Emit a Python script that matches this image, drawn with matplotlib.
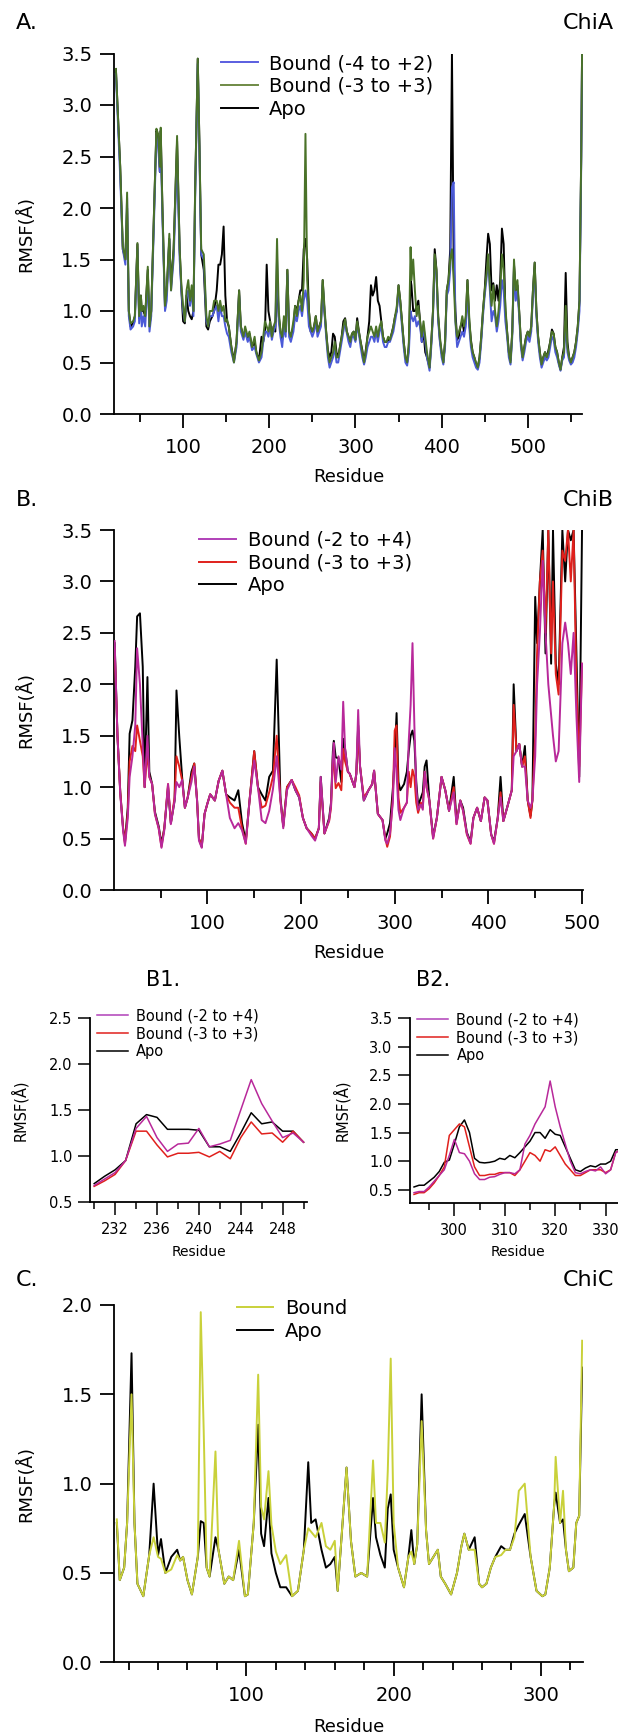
import matplotlib
matplotlib.use('Agg')
import matplotlib.pyplot as plt
from matplotlib.ticker import MultipleLocator

# ---------------- data ----------------
# ChiA
res_a = [22, 27, 30, 33, 35, 37, 39, 42, 44, 47,
         49, 51, 52, 54, 56, 59, 61, 63, 66, 69,
         71, 73, 74, 76, 79, 81, 84, 86, 89, 93,
         96, 98, 100, 102, 104, 106, 108, 110, 112, 114,
         117, 119, 121, 124, 127, 129, 131, 134, 136, 139,
         141, 143, 145, 147, 149, 151, 153, 156, 159, 162,
         165, 167, 170, 172, 175, 177, 180, 183, 185, 188,
         191, 193, 195, 197, 199, 201, 203, 205, 207, 209,
         211, 213, 215, 217, 219, 221, 223, 225, 228, 230,
         232, 234, 236, 238, 240, 242, 244, 246, 248, 250,
         252, 254, 256, 258, 260, 262, 264, 266, 268, 270,
         272, 274, 276, 278, 280, 282, 284, 286, 288, 290,
         292, 294, 296, 298, 300, 302, 304, 306, 308, 310,
         312, 314, 316, 318, 320, 322, 324, 326, 328, 330,
         332, 334, 336, 338, 340, 342, 344, 346, 348, 350,
         352, 354, 356, 358, 360, 362, 364, 365, 367, 369,
         371, 373, 375, 377, 379, 381, 383, 386, 388, 390,
         392, 394, 396, 398, 400, 402, 404, 406, 408, 410,
         412, 414, 416, 418, 420, 422, 424, 426, 428, 430,
         432, 434, 436, 438, 440, 442, 444, 446, 448, 450,
         452, 454, 456, 458, 460, 462, 464, 466, 468, 470,
         472, 474, 476, 478, 480, 482, 484, 486, 488, 490,
         492, 494, 496, 498, 500, 502, 504, 506, 508, 510,
         512, 514, 516, 518, 520, 522, 524, 526, 528, 530,
         532, 534, 536, 538, 540, 542, 544, 546, 548, 550,
         552, 554, 556, 558, 560, 562, 563]
a_bound33 = [3.35, 2.4, 1.63, 1.5, 2.15, 1.0, 0.88, 0.9, 0.95, 1.66,
             0.95, 1.15, 1.0, 1.05, 0.95, 1.43, 0.85, 1.0, 1.9, 2.77,
             2.72, 2.4, 2.78, 2.0, 1.05, 1.2, 1.75, 1.2, 1.6, 2.7,
             1.6, 1.25, 1.05, 0.9, 1.2, 1.3, 1.1, 1.25, 1.0, 2.2,
             3.45, 2.6, 1.6, 1.55, 0.95, 0.85, 1.0, 1.0, 1.1, 1.1,
             1.0, 1.1, 1.0, 1.05, 0.9, 0.92, 0.85, 0.65, 0.5, 0.7,
             1.2, 0.85, 0.75, 0.85, 0.75, 0.8, 0.65, 0.75, 0.6, 0.52,
             0.6, 0.75, 0.9, 0.85, 0.8, 0.9, 0.75, 0.85, 0.9, 1.7,
             1.0, 0.8, 0.75, 0.95, 0.8, 1.4, 0.8, 0.75, 0.9, 1.05,
             0.95, 1.1, 1.15, 1.0, 1.3, 2.72, 1.3, 1.0, 0.85, 0.8,
             0.85, 0.95, 0.8, 0.85, 0.9, 1.3, 1.05, 0.8, 0.6, 0.5,
             0.55, 0.6, 0.7, 0.55, 0.55, 0.65, 0.75, 0.85, 0.92, 0.8,
             0.75, 0.7, 0.78, 0.8, 0.72, 0.9, 0.8, 0.7, 0.6, 0.5,
             0.6, 0.75, 0.8, 0.85, 0.8, 0.75, 0.85, 0.75, 0.85, 0.9,
             0.75, 0.7, 0.7, 0.75, 0.72, 0.78, 0.85, 0.95, 1.05, 1.25,
             1.1, 0.9, 0.7, 0.55, 0.5, 0.7, 1.62, 1.3, 1.5, 1.2,
             0.95, 1.05, 0.9, 0.75, 0.9, 0.75, 0.6, 0.45, 0.7, 1.0,
             1.55, 1.4, 0.95, 0.75, 0.6, 0.5, 0.7, 1.2, 1.3, 1.5,
             1.6, 1.3, 0.9, 0.75, 0.8, 0.85, 0.95, 0.85, 0.95, 1.3,
             0.95, 0.7, 0.6, 0.55, 0.5, 0.45, 0.55, 0.75, 1.0, 1.2,
             1.35, 1.55, 1.25, 1.05, 1.25, 1.0, 0.85, 1.0, 1.2, 1.55,
             1.4, 1.05, 0.8, 0.6, 0.5, 0.8, 1.5, 1.2, 1.3, 1.0,
             0.7, 0.55, 0.65, 0.75, 0.8, 0.75, 0.85, 1.2, 1.47, 1.0,
             0.75, 0.6, 0.48, 0.55, 0.6, 0.55, 0.6, 0.7, 0.8, 0.78,
             0.65, 0.6, 0.5, 0.43, 0.55, 0.6, 1.05, 0.65, 0.55, 0.5,
             0.55, 0.6, 0.7, 0.85, 1.1, 2.5, 3.5]
a_bound42 = [3.3, 2.3, 1.6, 1.45, 2.1, 0.95, 0.82, 0.85, 0.9, 1.6,
             0.88, 1.1, 0.85, 0.95, 0.85, 1.3, 0.8, 0.95, 1.8, 2.7,
             2.6, 2.35, 2.65, 1.9, 1.0, 1.1, 1.7, 1.2, 1.5, 2.5,
             1.5, 1.2, 1.0, 0.9, 1.15, 1.2, 1.05, 1.2, 0.95, 2.1,
             3.4, 2.5, 1.55, 1.5, 0.9, 0.85, 0.95, 0.95, 1.0, 1.05,
             0.9, 1.05, 0.95, 0.95, 0.85, 0.78, 0.75, 0.6, 0.5, 0.65,
             1.15, 0.8, 0.72, 0.8, 0.7, 0.75, 0.62, 0.65, 0.58, 0.5,
             0.55, 0.7, 0.8, 0.8, 0.75, 0.85, 0.72, 0.8, 0.85, 1.5,
             0.9, 0.75, 0.65, 0.85, 0.75, 1.35, 0.75, 0.7, 0.8, 0.95,
             0.9, 1.0, 1.05, 0.95, 1.1, 1.2, 1.1, 0.85, 0.8, 0.75,
             0.8, 0.9, 0.75, 0.8, 0.85, 1.25, 1.0, 0.75, 0.55, 0.45,
             0.5, 0.55, 0.65, 0.5, 0.5, 0.6, 0.7, 0.8, 0.9, 0.78,
             0.7, 0.65, 0.75, 0.75, 0.7, 0.85, 0.78, 0.65, 0.55, 0.48,
             0.55, 0.65, 0.7, 0.75, 0.75, 0.7, 0.8, 0.7, 0.8, 0.85,
             0.7, 0.65, 0.65, 0.7, 0.7, 0.75, 0.8, 0.9, 1.0, 1.2,
             1.05, 0.85, 0.65, 0.5, 0.47, 0.6, 1.0, 0.95, 0.9, 0.95,
             0.85, 0.9, 0.85, 0.7, 0.85, 0.7, 0.55, 0.42, 0.65, 0.95,
             1.5, 1.35, 0.9, 0.7, 0.55, 0.48, 0.65, 1.15, 1.2, 1.4,
             2.2, 2.25, 0.9, 0.65, 0.7, 0.75, 0.8, 0.75, 0.85, 1.2,
             0.85, 0.65, 0.55, 0.5, 0.45, 0.43, 0.5, 0.7, 0.95, 1.15,
             1.3, 1.5, 1.2, 0.9, 1.0, 0.95, 0.8, 0.9, 1.05, 1.3,
             1.2, 0.9, 0.75, 0.55, 0.48, 0.75, 1.4, 1.1, 1.2, 0.95,
             0.65, 0.52, 0.6, 0.7, 0.75, 0.7, 0.8, 1.15, 1.4, 0.95,
             0.7, 0.55, 0.45, 0.5, 0.55, 0.52, 0.55, 0.65, 0.75, 0.72,
             0.6, 0.55, 0.48, 0.42, 0.52, 0.55, 0.9, 0.6, 0.52, 0.48,
             0.5, 0.55, 0.65, 0.8, 1.0, 2.4, 3.5]
a_apo = [3.35, 2.4, 1.6, 1.5, 2.0, 1.0, 0.85, 0.88, 0.95, 1.65,
         0.93, 1.15, 1.0, 1.0, 0.95, 1.4, 0.85, 1.0, 1.9, 2.75,
         2.7, 2.35, 2.75, 2.0, 1.02, 1.2, 1.7, 1.25, 1.6, 2.65,
         1.6, 1.2, 0.9, 0.88, 1.15, 1.0, 0.95, 0.92, 1.0, 2.2,
         3.45, 2.6, 1.55, 1.4, 0.85, 0.82, 0.9, 0.95, 1.0, 1.2,
         1.45, 1.45, 1.55, 1.82, 1.15, 0.9, 0.85, 0.65, 0.52, 0.7,
         1.2, 0.85, 0.75, 0.8, 0.72, 0.78, 0.65, 0.7, 0.6, 0.52,
         0.75, 0.7, 0.8, 1.45, 1.0, 0.9, 0.75, 0.85, 0.8, 1.3,
         0.95, 0.8, 0.72, 0.9, 0.8, 1.4, 0.8, 0.75, 0.85, 1.05,
         1.0, 1.1, 1.2, 1.2, 1.6, 1.7, 1.5, 1.0, 0.8, 0.8,
         0.85, 0.95, 0.8, 0.85, 0.9, 1.3, 1.0, 0.8, 0.62, 0.55,
         0.6, 0.78, 0.75, 0.6, 0.55, 0.65, 0.75, 0.9, 0.93, 0.8,
         0.75, 0.7, 0.78, 0.8, 0.72, 0.93, 0.8, 0.7, 0.62, 0.5,
         0.62, 0.75, 0.9, 1.25, 1.15, 1.2, 1.33, 1.1, 1.05, 0.9,
         0.75, 0.7, 0.7, 0.72, 0.72, 0.78, 0.85, 0.95, 1.0, 1.25,
         1.1, 0.9, 0.7, 0.55, 0.5, 0.65, 1.3, 1.25, 1.0, 1.0,
         1.05, 1.1, 0.9, 0.7, 0.8, 0.6, 0.55, 0.45, 0.7, 1.0,
         1.6, 1.4, 0.95, 0.72, 0.6, 0.5, 0.7, 1.2, 1.3, 1.6,
         3.5, 1.5, 1.0, 0.72, 0.75, 0.85, 0.9, 0.8, 0.9, 1.3,
         0.9, 0.72, 0.6, 0.55, 0.48, 0.45, 0.55, 0.75, 1.0, 1.2,
         1.5, 1.75, 1.65, 1.2, 1.27, 1.1, 1.25, 1.1, 1.3, 1.8,
         1.65, 1.0, 0.8, 0.6, 0.52, 0.8, 1.45, 1.2, 1.25, 1.0,
         0.7, 0.55, 0.65, 0.75, 0.8, 0.75, 0.85, 1.2, 1.47, 1.0,
         0.75, 0.6, 0.48, 0.55, 0.6, 0.55, 0.62, 0.7, 0.82, 0.78,
         0.65, 0.6, 0.5, 0.43, 0.55, 0.65, 1.37, 0.7, 0.55, 0.5,
         0.55, 0.6, 0.7, 0.85, 1.1, 2.5, 3.5]

# ChiB
res_b = [1, 4, 7, 10, 12, 15, 17, 20, 23, 25,
         28, 31, 33, 36, 38, 41, 44, 48, 51, 54,
         58, 61, 65, 67, 70, 73, 76, 79, 83, 86,
         89, 91, 94, 97, 100, 103, 108, 112, 116, 120,
         124, 129, 133, 137, 141, 145, 150, 154, 158, 162,
         166, 170, 174, 178, 181, 185, 190, 194, 198, 202,
         206, 211, 215, 219, 221, 225, 230, 232, 234, 235,
         237, 240, 243, 245, 247, 250, 252, 257, 259, 261,
         263, 267, 272, 276, 278, 282, 287, 290, 292, 295,
         298, 300, 302, 304, 306, 310, 313, 315, 317, 319,
         321, 323, 325, 328, 330, 332, 334, 337, 341, 345,
         350, 354, 358, 363, 366, 370, 373, 377, 381, 384,
         388, 392, 396, 399, 403, 406, 410, 413, 416, 420,
         425, 427, 430, 433, 436, 439, 442, 445, 447, 450,
         452, 455, 458, 461, 464, 467, 469, 472, 475, 479,
         482, 485, 488, 491, 494, 497, 500]
b_bound24 = [2.42, 1.5, 0.93, 0.58, 0.43, 0.7, 1.1, 1.3, 1.6, 2.35,
             2.0, 1.4, 1.0, 1.5, 1.1, 1.03, 0.74, 0.6, 0.41, 0.58,
             1.03, 0.64, 0.87, 1.05, 1.0, 1.07, 0.8, 0.9, 1.05, 1.2,
             0.87, 0.48, 0.41, 0.74, 0.84, 0.93, 0.87, 1.06, 1.16, 0.93,
             0.7, 0.6, 0.65, 0.58, 0.45, 0.87, 1.26, 1.0, 0.68, 0.65,
             0.77, 0.98, 1.3, 0.87, 0.6, 0.97, 1.07, 0.97, 0.9, 0.7,
             0.6, 0.53, 0.48, 0.6, 1.1, 0.55, 0.68, 0.82, 1.3, 1.43,
             1.05, 1.3, 1.17, 1.83, 1.38, 1.15, 1.13, 1.0, 1.13, 1.75,
             1.2, 0.87, 0.97, 1.03, 1.16, 0.74, 0.68, 0.48, 0.45, 0.55,
             0.85, 1.38, 1.13, 0.78, 0.68, 0.8, 0.85, 1.45, 1.8, 2.4,
             1.6, 1.0, 0.78, 0.83, 0.78, 1.15, 1.0, 0.87, 0.5, 0.7,
             1.1, 0.97, 0.77, 0.95, 0.64, 0.87, 0.77, 0.55, 0.45, 0.7,
             0.8, 0.67, 0.9, 0.87, 0.54, 0.45, 0.7, 0.9, 0.67, 0.8,
             0.97, 1.3, 1.35, 1.42, 1.2, 1.2, 0.87, 0.8, 0.87, 1.3,
             2.0, 2.5, 3.2, 2.5, 2.0, 1.7, 1.5, 1.25, 1.35, 2.4,
             2.6, 2.4, 2.1, 2.5, 1.7, 1.05, 2.2]
b_bound33 = [2.35, 1.5, 0.95, 0.6, 0.45, 0.75, 1.25, 1.4, 1.35, 1.6,
             1.45, 1.3, 1.0, 1.35, 1.1, 1.03, 0.74, 0.6, 0.42, 0.6,
             1.03, 0.65, 0.9, 1.3, 1.2, 1.07, 0.8, 0.9, 1.1, 1.23,
             0.87, 0.5, 0.42, 0.74, 0.84, 0.93, 0.87, 1.06, 1.16, 0.93,
             0.85, 0.8, 0.8, 0.6, 0.45, 0.87, 1.35, 1.0, 0.8, 0.82,
             0.95, 1.1, 1.5, 0.87, 0.62, 1.0, 1.07, 1.0, 0.92, 0.7,
             0.6, 0.55, 0.5, 0.6, 1.05, 0.55, 0.67, 0.8, 1.27, 1.27,
             0.99, 1.04, 0.97, 1.37, 1.25, 1.15, 1.13, 1.0, 1.13, 1.55,
             1.2, 0.9, 0.97, 1.03, 1.16, 0.74, 0.68, 0.5, 0.42, 0.52,
             0.9, 1.55, 1.6, 0.9, 0.75, 0.8, 0.85, 1.15, 1.0, 1.17,
             1.1, 0.85, 0.75, 0.85, 0.8, 1.15, 1.0, 0.87, 0.5, 0.7,
             1.1, 0.97, 0.77, 1.0, 0.64, 0.87, 0.77, 0.54, 0.45, 0.7,
             0.8, 0.67, 0.9, 0.87, 0.54, 0.45, 0.7, 0.95, 0.67, 0.8,
             0.97, 1.8, 1.35, 1.42, 1.2, 1.3, 0.87, 0.7, 0.87, 1.5,
             2.3, 3.0, 3.3, 2.5, 3.5, 2.3, 3.0, 2.1, 1.9, 3.3,
             3.2, 3.5, 3.0, 3.5, 2.0, 1.2, 2.2]
b_apo = [2.4, 1.5, 0.95, 0.6, 0.47, 0.8, 1.52, 1.65, 2.17, 2.66,
         2.69, 2.17, 1.0, 2.07, 1.15, 1.03, 0.76, 0.62, 0.45, 0.6,
         1.0, 0.65, 0.87, 1.94, 1.49, 1.1, 0.8, 0.9, 1.15, 1.23,
         0.87, 0.5, 0.42, 0.74, 0.84, 0.93, 0.87, 1.06, 1.16, 0.93,
         0.9, 0.87, 0.97, 0.65, 0.48, 0.87, 1.35, 1.0, 0.93, 0.87,
         1.1, 1.16, 2.24, 0.9, 0.62, 1.0, 1.07, 0.97, 0.9, 0.7,
         0.6, 0.55, 0.5, 0.6, 1.1, 0.55, 0.7, 0.85, 1.35, 1.45,
         1.29, 1.28, 1.05, 1.47, 1.37, 1.15, 1.13, 1.0, 1.13, 1.6,
         1.2, 0.87, 0.97, 1.03, 1.16, 0.74, 0.68, 0.5, 0.55, 0.65,
         0.98, 1.3, 1.72, 1.05, 0.97, 1.03, 1.15, 1.35, 1.5, 1.55,
         1.45, 1.05, 0.82, 0.9, 0.95, 1.2, 1.26, 0.87, 0.52, 0.7,
         1.1, 0.97, 0.77, 1.1, 0.66, 0.87, 0.8, 0.56, 0.47, 0.7,
         0.8, 0.67, 0.9, 0.87, 0.54, 0.47, 0.7, 1.1, 0.67, 0.8,
         0.97, 2.0, 1.35, 1.42, 1.2, 1.4, 0.87, 0.72, 0.87, 2.85,
         2.4, 3.0, 3.5, 2.3, 3.5, 2.2, 3.5, 2.2, 2.0, 3.5,
         3.0, 3.5, 3.4, 3.5, 2.3, 1.1, 3.5]

# ChiB zoom B1 (residues 230-250)
res_b1 = [230, 231, 232, 233, 234, 235, 236, 237, 238, 239,
          240, 241, 242, 243, 244, 245, 246, 247, 248, 249, 250]
b1_bound24 = [0.68, 0.75, 0.82, 0.95, 1.3, 1.43, 1.2, 1.05, 1.13, 1.14,
              1.3, 1.1, 1.13, 1.17, 1.5, 1.83, 1.57, 1.38, 1.2, 1.25, 1.15]
b1_bound33 = [0.67, 0.73, 0.8, 0.95, 1.27, 1.27, 1.12, 0.99, 1.03, 1.03,
              1.04, 0.99, 1.05, 0.97, 1.2, 1.37, 1.24, 1.25, 1.15, 1.27, 1.15]
b1_apo = [0.7, 0.78, 0.85, 0.95, 1.35, 1.45, 1.42, 1.29, 1.29, 1.29,
          1.28, 1.1, 1.1, 1.05, 1.25, 1.47, 1.35, 1.37, 1.27, 1.27, 1.15]

# ChiB zoom B2 (residues 292-333)
res_b2 = [292, 293, 294, 295, 296, 297, 298, 299, 300, 301,
          302, 303, 304, 305, 306, 307, 308, 309, 310, 311,
          312, 313, 314, 315, 316, 317, 318, 319, 320, 321,
          322, 323, 324, 325, 326, 327, 328, 329, 330, 331,
          332, 333]
b2_bound24 = [0.45, 0.47, 0.47, 0.55, 0.65, 0.75, 0.85, 1.1, 1.38, 1.15,
              1.13, 1.0, 0.78, 0.68, 0.68, 0.72, 0.73, 0.77, 0.8, 0.8,
              0.78, 0.85, 1.3, 1.45, 1.65, 1.8, 1.95, 2.4, 1.95, 1.6,
              1.3, 1.0, 0.8, 0.78, 0.82, 0.85, 0.83, 0.9, 0.78, 0.85,
              1.15, 1.2]
b2_bound33 = [0.42, 0.45, 0.45, 0.52, 0.62, 0.75, 0.9, 1.45, 1.55, 1.65,
              1.6, 1.25, 0.9, 0.75, 0.75, 0.77, 0.77, 0.8, 0.8, 0.8,
              0.75, 0.85, 1.0, 1.15, 1.1, 1.0, 1.2, 1.17, 1.25, 1.1,
              0.95, 0.85, 0.75, 0.75, 0.8, 0.85, 0.85, 0.85, 0.8, 0.85,
              1.15, 1.2]
b2_apo = [0.55, 0.58, 0.58, 0.65, 0.72, 0.82, 0.98, 1.02, 1.3, 1.6,
          1.72, 1.5, 1.05, 0.98, 0.97, 0.98, 1.0, 1.05, 1.03, 1.1,
          1.06, 1.15, 1.25, 1.35, 1.5, 1.5, 1.4, 1.55, 1.47, 1.45,
          1.25, 1.05, 0.85, 0.82, 0.88, 0.92, 0.9, 0.95, 0.95, 1.0,
          1.2, 1.2]

# ChiC
res_c = [12, 14, 17, 19, 22, 24, 26, 30, 34, 37,
         40, 42, 45, 49, 53, 55, 57, 60, 63, 67,
         69, 71, 73, 75, 79, 81, 85, 88, 91, 95,
         99, 101, 105, 108, 110, 112, 115, 117, 120, 123,
         127, 131, 135, 139, 142, 144, 147, 151, 154, 157,
         160, 162, 164, 168, 171, 174, 178, 182, 186, 188,
         191, 194, 196, 198, 200, 203, 207, 210, 212, 214,
         216, 219, 222, 224, 227, 230, 232, 235, 239, 243,
         246, 248, 251, 255, 258, 260, 263, 266, 269, 273,
         276, 279, 282, 285, 289, 293, 297, 301, 303, 306,
         309, 310, 313, 315, 317, 319, 322, 324, 326, 328]
c_bound = [0.8, 0.46, 0.53, 0.78, 1.5, 0.78, 0.44, 0.37, 0.6, 0.7,
           0.59, 0.58, 0.5, 0.52, 0.6, 0.57, 0.59, 0.46, 0.38, 0.59,
           1.96, 1.3, 0.53, 0.48, 1.18, 0.63, 0.44, 0.48, 0.46, 0.68,
           0.37, 0.38, 0.78, 1.61, 0.87, 0.8, 1.07, 0.77, 0.62, 0.55,
           0.6, 0.37, 0.4, 0.63, 0.75, 0.73, 0.7, 0.78, 0.65, 0.63,
           0.68, 0.4, 0.63, 1.09, 0.68, 0.48, 0.5, 0.48, 1.13, 0.78,
           0.78, 0.67, 1.07, 1.7, 0.78, 0.53, 0.42, 0.59, 0.62, 0.55,
           0.66, 1.35, 0.74, 0.55, 0.59, 0.63, 0.48, 0.44, 0.38, 0.5,
           0.65, 0.72, 0.63, 0.63, 0.44, 0.42, 0.44, 0.53, 0.59, 0.6,
           0.63, 0.63, 0.7, 0.96, 1.0, 0.59, 0.4, 0.37, 0.38, 0.53,
           0.88, 1.15, 0.78, 0.96, 0.63, 0.51, 0.53, 0.78, 0.82, 1.8]
c_apo = [0.78, 0.46, 0.53, 0.78, 1.73, 0.78, 0.44, 0.37, 0.6, 1.0,
         0.6, 0.69, 0.5, 0.59, 0.63, 0.57, 0.59, 0.46, 0.38, 0.59,
         0.79, 0.78, 0.53, 0.48, 0.7, 0.63, 0.44, 0.48, 0.46, 0.63,
         0.37, 0.38, 0.78, 1.33, 0.72, 0.65, 0.92, 0.61, 0.5, 0.42,
         0.42, 0.37, 0.4, 0.63, 1.12, 0.78, 0.8, 0.63, 0.53, 0.55,
         0.59, 0.4, 0.63, 1.09, 0.68, 0.48, 0.5, 0.48, 0.92, 0.7,
         0.6, 0.53, 0.86, 0.94, 0.63, 0.53, 0.42, 0.59, 0.74, 0.55,
         0.66, 1.5, 0.74, 0.55, 0.59, 0.63, 0.48, 0.44, 0.38, 0.5,
         0.65, 0.72, 0.63, 0.7, 0.44, 0.42, 0.44, 0.53, 0.59, 0.65,
         0.63, 0.63, 0.72, 0.77, 0.83, 0.59, 0.4, 0.37, 0.38, 0.53,
         0.88, 0.95, 0.78, 0.8, 0.63, 0.51, 0.53, 0.78, 0.82, 1.65]

# ---------------- figure ----------------
W, H = 618, 1736
fig = plt.figure(figsize=(W / 100, H / 100), dpi=100)

MAG = '#b8289a'
MAG_LEG = '#b040b8'
RED = '#e0201c'


def box(left, right, top, bottom):
    # pixel box -> figure fraction
    return [left / W, 1 - bottom / H, (right - left) / W, (bottom - top) / H]


def style(ax, big=True):
    for s in ['top', 'right']:
        ax.spines[s].set_visible(False)
    for s in ['left', 'bottom']:
        ax.spines[s].set_linewidth(1.3)
    if big:
        ax.tick_params(which='major', length=10, width=1.3, labelsize=14)
        ax.tick_params(which='minor', length=5.5, width=1.3)
        ax.tick_params(axis='x', which='major', pad=7)
        ax.tick_params(axis='y', which='major', pad=5.5)
    else:
        ax.tick_params(which='major', length=9, width=1.1, labelsize=10.5)
        ax.tick_params(which='minor', length=5, width=1.1)
        ax.tick_params(axis='x', which='major', pad=5.5)
        ax.tick_params(axis='y', which='major', pad=3.5)


lw = 1.4

# A
ax = fig.add_axes(box(114, 582.5, 53.5, 414))
ax.plot(res_a, a_apo, color='black', lw=lw, zorder=2)
ax.plot(res_a, a_bound42, color='#4b5ad8', lw=lw, zorder=3)
ax.plot(res_a, a_bound33, color='#4a7228', lw=lw, zorder=4)
ax.set_xlim(19.8, 563.5)
ax.set_ylim(0, 3.5)
ax.xaxis.set_major_locator(MultipleLocator(100))
ax.xaxis.set_minor_locator(MultipleLocator(50))
ax.yaxis.set_major_locator(MultipleLocator(0.5))
ax.yaxis.set_major_formatter('{x:.1f}')
style(ax)
h = [plt.Line2D([], [], color=c, lw=1.4) for c in ['#5a5ee0', '#6f8a45', 'black']]
ax.legend(h, ['Bound (-4 to +2)', 'Bound (-3 to +3)', 'Apo'], loc='upper left',
          bbox_to_anchor=(0.2277, 0.9986), frameon=False, fontsize=14, borderpad=0,
          borderaxespad=0, handlelength=1.9, handletextpad=0.6, labelspacing=0.2)

# B
ax = fig.add_axes(box(114, 582.5, 530, 890))
ax.plot(res_b, b_apo, color='black', lw=lw, zorder=2)
ax.plot(res_b, b_bound33, color=RED, lw=lw, zorder=3)
ax.plot(res_b, b_bound24, color=MAG, lw=lw, zorder=4)
ax.set_xlim(0.3, 500.5)
ax.set_ylim(0, 3.5)
ax.xaxis.set_major_locator(MultipleLocator(100))
ax.xaxis.set_minor_locator(MultipleLocator(50))
ax.yaxis.set_major_locator(MultipleLocator(0.5))
ax.yaxis.set_major_formatter('{x:.1f}')
style(ax)
h = [plt.Line2D([], [], color=c, lw=1.4) for c in [MAG_LEG, RED, 'black']]
ax.legend(h, ['Bound (-2 to +4)', 'Bound (-3 to +3)', 'Apo'], loc='upper left',
          bbox_to_anchor=(0.1814, 0.9986), frameon=False, fontsize=14, borderpad=0,
          borderaxespad=0, handlelength=1.9, handletextpad=0.6, labelspacing=0.2)

# B1
ax = fig.add_axes(box(90, 306.7, 1018, 1202))
ax.plot(res_b1, b1_apo, color='black', lw=1.1, zorder=2)
ax.plot(res_b1, b1_bound33, color=RED, lw=1.1, zorder=3)
ax.plot(res_b1, b1_bound24, color=MAG, lw=1.1, zorder=4)
ax.set_xlim(229.6, 250.3)
ax.set_ylim(0.5, 2.5)
ax.set_xticks([232, 236, 240, 244, 248])
ax.set_xticks([230, 234, 238, 242, 246, 250], minor=True)
ax.yaxis.set_major_locator(MultipleLocator(0.5))
ax.yaxis.set_major_formatter('{x:.1f}')
style(ax, big=False)
h = [plt.Line2D([], [], color=c, lw=1.1) for c in [MAG_LEG, RED, 'black']]
ax.legend(h, ['Bound (-2 to +4)', 'Bound (-3 to +3)', 'Apo'], loc='upper left',
          bbox_to_anchor=(0.032, 1.052), frameon=False, fontsize=10.5, borderpad=0,
          borderaxespad=0, handlelength=2.1, handletextpad=0.6, labelspacing=0.2)

# B2 (runs off the right edge)
ax = fig.add_axes(box(410, 630.8, 1018, 1203))
ax.plot(res_b2, b2_apo, color='black', lw=1.1, zorder=2)
ax.plot(res_b2, b2_bound33, color=RED, lw=1.1, zorder=3)
ax.plot(res_b2, b2_bound24, color=MAG, lw=1.1, zorder=4)
ax.set_xlim(291.2, 335)
ax.set_ylim(0.27, 3.5)
ax.xaxis.set_major_locator(MultipleLocator(10))
ax.xaxis.set_minor_locator(MultipleLocator(5))
ax.yaxis.set_major_locator(MultipleLocator(0.5))
ax.yaxis.set_major_formatter('{x:.1f}')
style(ax, big=False)
ax.legend(h, ['Bound (-2 to +4)', 'Bound (-3 to +3)', 'Apo'], loc='upper left',
          bbox_to_anchor=(0.032, 1.03), frameon=False, fontsize=10.5, borderpad=0,
          borderaxespad=0, handlelength=2.1, handletextpad=0.6, labelspacing=0.2)

# C
ax = fig.add_axes(box(114.3, 582.6, 1305, 1662.3))
ax.plot(res_c, c_apo, color='black', lw=lw, zorder=2)
ax.plot(res_c, c_bound, color='#c9d13a', lw=lw, zorder=3)
ax.set_xlim(10.3, 328.3)
ax.set_ylim(0, 2.0)
ax.xaxis.set_major_locator(MultipleLocator(100))
ax.xaxis.set_minor_locator(MultipleLocator(20))
ax.yaxis.set_major_locator(MultipleLocator(0.5))
ax.yaxis.set_major_formatter('{x:.1f}')
style(ax)
h = [plt.Line2D([], [], color=c, lw=1.4) for c in ['#c9d13a', 'black']]
ax.legend(h, ['Bound', 'Apo'], loc='upper left',
          bbox_to_anchor=(0.261, 1.0176), frameon=False, fontsize=14, borderpad=0,
          borderaxespad=0, handlelength=1.9, handletextpad=0.6, labelspacing=0.2)


# texts
def ftext(x, y, s, **kw):
    fig.text(x / W, 1 - y / H, s, **kw)


for lab, tag, y in [('A.', 'ChiA', 23), ('B.', 'ChiB', 500), ('C.', 'ChiC', 1280)]:
    ftext(16, y, lab, fontsize=16, ha='left', va='center')
    ftext(614, y, tag, fontsize=16, ha='right', va='center')
ftext(163, 980, 'B1.', fontsize=15, ha='center', va='center')
ftext(433, 980, 'B2.', fontsize=15, ha='center', va='center')

for y in [477, 953, 1727]:
    ftext(349, y, 'Residue', fontsize=13, ha='center', va='center')
for y in [234, 710, 1483.5]:
    ftext(25.6, y, 'RMSF(Å)', fontsize=13, ha='center', va='center', rotation=90)
ftext(199, 1252, 'Residue', fontsize=10, ha='center', va='center')
ftext(518, 1252, 'Residue', fontsize=10, ha='center', va='center')
ftext(19.7, 1110, 'RMSF(Å)', fontsize=10.5, ha='center', va='center', rotation=90)
ftext(341, 1110, 'RMSF(Å)', fontsize=10.5, ha='center', va='center', rotation=90)

fig.savefig('out.png', dpi=100)
